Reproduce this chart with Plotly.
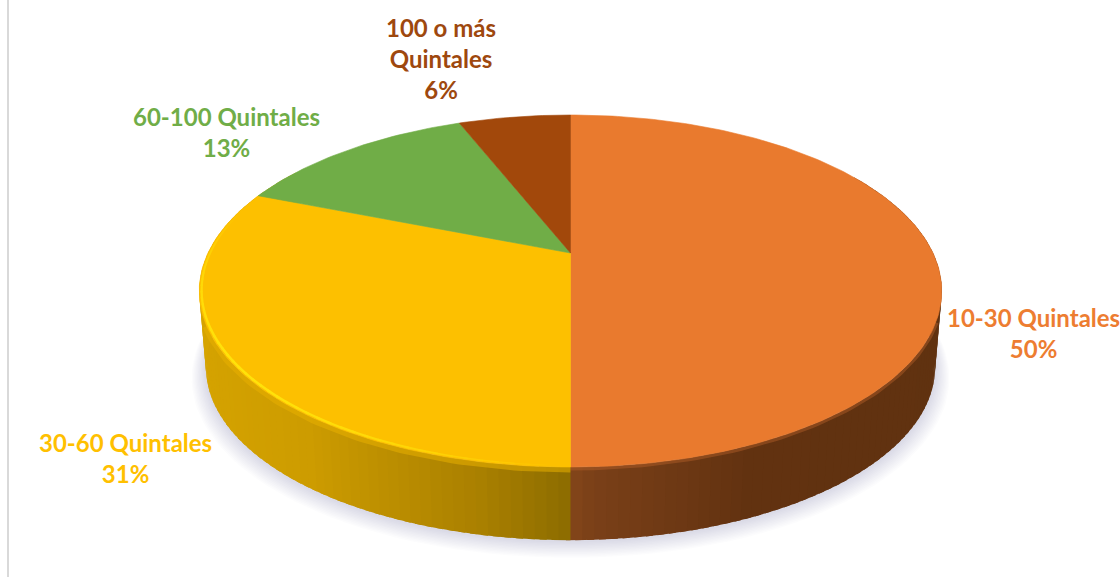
"""Pie with a tilted 3D look, built from filled scatter polygons."""

import numpy as np
import plotly.graph_objects as go

categories = ["10-30 Quintales", "30-60 Quintales", "60-100 Quintales", "100 o más<br>Quintales"]
shares = [50, 31, 13, 6]

top_colors = ["#E97A2E", "#FDC000", "#70AD47", "#A2480B"]
label_colors = ["#ED7D31", "#FFC000", "#70AD47", "#9E480E"]
label_x = [1033, 125, 226, 441]
label_y = [333, 458, 132, 58]

# wall colour by horizontal position (-1 left edge, 0 front, 1 right edge)
wall_u = [-1.0, -0.6, -0.2, 0.0]
wall_yellow = [(214, 164, 0), (205, 156, 0), (170, 128, 0), (140, 108, 0)]
wall_u_orange = [0.0, 0.05, 0.4, 1.0]
wall_orange = [(132, 70, 26), (122, 64, 24), (98, 50, 16), (96, 50, 16)]

CX, CY = 570.5, 253
RX, RY = 362.5, 167.8
TILT = 0.2159
BOTTOM_CY, BOTTOM_SCALE = 330, 0.982


def project(theta, cy=CY, scale=1.0, r=1.0):
    # theta runs clockwise from 12 o'clock
    u = np.sin(theta) * r
    v = -np.cos(theta) * r
    d = 1 - TILT * v
    return CX + scale * RX * u / d, cy + scale * RY * v / d


def mix(u, stops_u, stops_rgb):
    rgb = [np.interp(u, stops_u, [c[i] for c in stops_rgb]) for i in range(3)]
    return "rgb(%d,%d,%d)" % tuple(int(round(c)) for c in rgb)


def poly(x, y, color, opacity=1.0, width=0.6):
    return go.Scatter(
        x=x, y=y, mode="lines", fill="toself", fillcolor=color, opacity=opacity,
        line=dict(color=color, width=width), hoverinfo="skip", showlegend=False,
    )


def edge_line(th, color, width, opacity=1.0, r=1.0, dy=0.0):
    x, y = project(th, r=r)
    return go.Scatter(
        x=x, y=y + dy, mode="lines", line=dict(color=color, width=width),
        opacity=opacity, hoverinfo="skip", showlegend=False,
    )


fig = go.Figure()

edges = np.cumsum([0] + shares) / sum(shares) * 2 * np.pi

# soft shadow under the disc
full = np.linspace(0, 2 * np.pi, 181)
for i in range(12, 0, -1):
    sx, sy = project(full, cy=BOTTOM_CY + 1.0 + i * 0.7, scale=BOTTOM_SCALE + i * 0.0032)
    fig.add_trace(poly(sx, sy, "#8E8E98", 0.022, width=0))

# side wall, quads overlap the next one so no seams show
steps = np.radians(np.arange(60, 301, 1.5))
step = steps[1] - steps[0]
for a in steps:
    # the wall is split at the slice boundary
    b = a + step * 1.6
    if a < edges[1]:
        b = min(b, edges[1] + 0.01)
    mid = a + step / 2
    u = float(np.sin(mid))
    if mid < edges[1]:
        color = mix(u, wall_u_orange, wall_orange)
    else:
        color = mix(u, wall_u, wall_yellow)
    tx, ty = project(np.array([a, b]))
    bx, by = project(np.array([b, a]), cy=BOTTOM_CY, scale=BOTTOM_SCALE)
    fig.add_trace(poly(np.r_[tx, bx, tx[0]], np.r_[ty, by, ty[0]], color, width=0))

# blurred band where the wall meets the top face
fig.add_trace(edge_line(np.radians(np.arange(112, 180.5, 1)), "#B5602A", 5, 0.45, dy=1))
fig.add_trace(edge_line(np.radians(np.arange(180, 248, 1)), "#E8B000", 7, 0.55, dy=2))

# top face
for start, end, color in zip(edges[:-1], edges[1:], top_colors):
    th = np.linspace(start, end, max(int(np.degrees(end - start)), 4))
    x, y = project(th)
    fig.add_trace(poly(np.r_[CX, x, CX], np.r_[CY, y, CY], color))

# bevel highlight on the yellow rim
rim = np.radians(np.arange(181, 284, 2))
for a, b in zip(rim[:-1], rim[1:]):
    strength = max(0.0, np.sin((a - rim[0]) / (rim[-1] - rim[0]) * np.pi)) ** 0.8
    color = mix(strength, [0, 1], [(253, 192, 0), (255, 226, 10)])
    fig.add_trace(edge_line(np.array([a, b + 0.01]), color, 1 + 1.5 * strength, r=0.994))

for name, share, color, x, y in zip(categories, shares, label_colors, label_x, label_y):
    fig.add_annotation(
        x=x, y=y, text=f"<b>{name}<br>{share}%</b>", showarrow=False,
        font=dict(family="Lato", size=24, color=color), align="center",
        xanchor="center", yanchor="middle",
    )

# left frame line of the original picture
fig.add_shape(type="line", x0=8, x1=8, y0=0, y1=577, line=dict(color="#D9D9D9", width=2))

fig.update_layout(
    width=1120, height=577,
    margin=dict(l=0, r=0, t=0, b=0),
    paper_bgcolor="white", plot_bgcolor="white",
    showlegend=False,
    xaxis=dict(range=[0, 1120], visible=False, fixedrange=True),
    yaxis=dict(range=[577, 0], visible=False, fixedrange=True),
)

# the page's default body margin would push the chart 8px in
fig.write_html(
    "out.html",
    config=dict(displayModeBar=False),
    post_script="document.body.style.margin='0';document.body.style.overflow='hidden';",
)
